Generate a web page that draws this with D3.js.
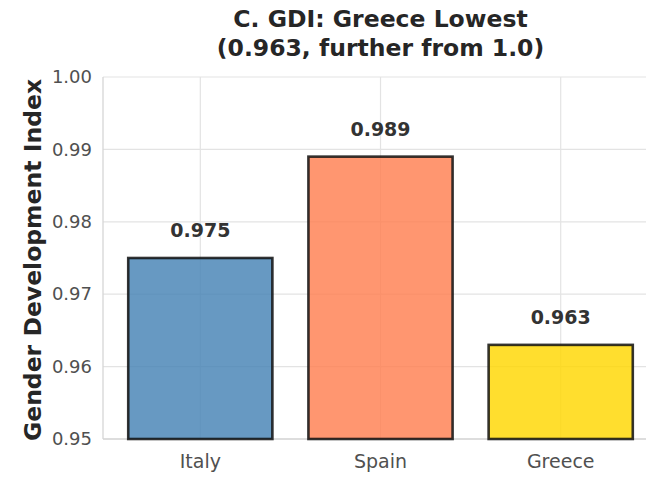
<!DOCTYPE html>
<html>
<head>
<meta charset="utf-8">
<script src="https://cdn.jsdelivr.net/npm/d3@7"></script>
<style>
  html, body { margin: 0; padding: 0; background: #fff; }
  svg { display: block; }
  text { font-family: "DejaVu Sans", sans-serif; }
</style>
</head>
<body>
<div id="chart"></div>
<script>
const categories = ["Italy", "Spain", "Greece"];
const values = [0.975, 0.989, 0.963];
const valueLabels = ["0.975", "0.989", "0.963"];
const barColors = ["#4682b4", "#ff7f50", "#ffd700"];
const yTicks = [0.95, 0.96, 0.97, 0.98, 0.99, 1.00];
const yDomain = [0.95, 1.00];
const titleLines = ["C. GDI: Greece Lowest", "(0.963, further from 1.0)"];
const yLabel = "Gender Development Index";

(function () {
const W = 646, H = 477;
const mLeft = 103, mTop = 77, mBottom = 439;
const step = 180.2;
const mRight = mLeft + step * 3.08;

const svg = d3.select("#chart").append("svg")
  .attr("width", W).attr("height", H);

const x = d3.scaleBand().domain(categories)
  .range([mLeft, mRight]).paddingInner(0.2).paddingOuter(0.14);
const y = d3.scaleLinear().domain(yDomain).range([mBottom, mTop]);

// grid
const grid = svg.append("g");
grid.selectAll("line.h").data(yTicks).join("line")
  .attr("x1", mLeft).attr("x2", mRight)
  .attr("y1", d => y(d)).attr("y2", d => y(d))
  .attr("stroke", "#e3e3e3").attr("stroke-width", 1.2);
grid.selectAll("line.v").data(categories).join("line")
  .attr("x1", d => x(d) + x.bandwidth() / 2).attr("x2", d => x(d) + x.bandwidth() / 2)
  .attr("y1", mTop).attr("y2", mBottom)
  .attr("stroke", "#e3e3e3").attr("stroke-width", 1.2);

// spines
svg.append("line").attr("x1", mLeft).attr("x2", mLeft).attr("y1", mTop).attr("y2", mBottom)
  .attr("stroke", "#d6d6d6").attr("stroke-width", 1.3);
svg.append("line").attr("x1", mLeft).attr("x2", mRight).attr("y1", mBottom).attr("y2", mBottom)
  .attr("stroke", "#d6d6d6").attr("stroke-width", 1.3);

// bars
svg.selectAll("rect.bar").data(values).join("rect")
  .attr("class", "bar")
  .attr("x", (d, i) => x(categories[i]))
  .attr("width", x.bandwidth())
  .attr("y", d => y(d))
  .attr("height", d => y(yDomain[0]) - y(d))
  .attr("fill", (d, i) => barColors[i]).attr("fill-opacity", 0.82)
  .attr("stroke", "#111").attr("stroke-opacity", 0.85).attr("stroke-width", 2.6);

// value labels
svg.selectAll("text.val").data(values).join("text")
  .attr("class", "val")
  .attr("x", (d, i) => x(categories[i]) + x.bandwidth() / 2)
  .attr("y", d => y(d) - 21)
  .attr("text-anchor", "middle")
  .attr("font-size", 19).attr("font-weight", "bold").attr("fill", "#333")
  .text((d, i) => valueLabels[i]);

// y axis
const yAxis = d3.axisLeft(y).tickValues(yTicks).tickFormat(d3.format(".2f")).tickSize(0).tickPadding(11);
const yg = svg.append("g").attr("transform", `translate(${mLeft},0)`).call(yAxis);
yg.select(".domain").remove();
yg.selectAll("text").attr("font-size", 18).attr("fill", "#505050")
  .attr("font-family", "DejaVu Sans, sans-serif");

// x axis
const xAxis = d3.axisBottom(x).tickSize(0).tickPadding(16);
const xg = svg.append("g").attr("transform", `translate(0,${mBottom})`).call(xAxis);
xg.select(".domain").remove();
xg.selectAll("text").attr("font-size", 19).attr("fill", "#505050")
  .attr("font-family", "DejaVu Sans, sans-serif");

// y label
svg.append("text")
  .attr("transform", `translate(41,${(mTop + mBottom) / 2 + 2}) rotate(-90)`)
  .attr("text-anchor", "middle")
  .attr("font-size", 23.5).attr("font-weight", "bold").attr("fill", "#262626")
  .text(yLabel);

// title
const tcx = (mLeft + mRight) / 2;
svg.selectAll("text.title").data(titleLines).join("text")
  .attr("class", "title")
  .attr("x", tcx)
  .attr("y", (d, i) => 27 + i * 29)
  .attr("text-anchor", "middle")
  .attr("font-size", 23.5).attr("font-weight", "bold").attr("fill", "#262626")
  .text(d => d);
})();
</script>
</body>
</html>
